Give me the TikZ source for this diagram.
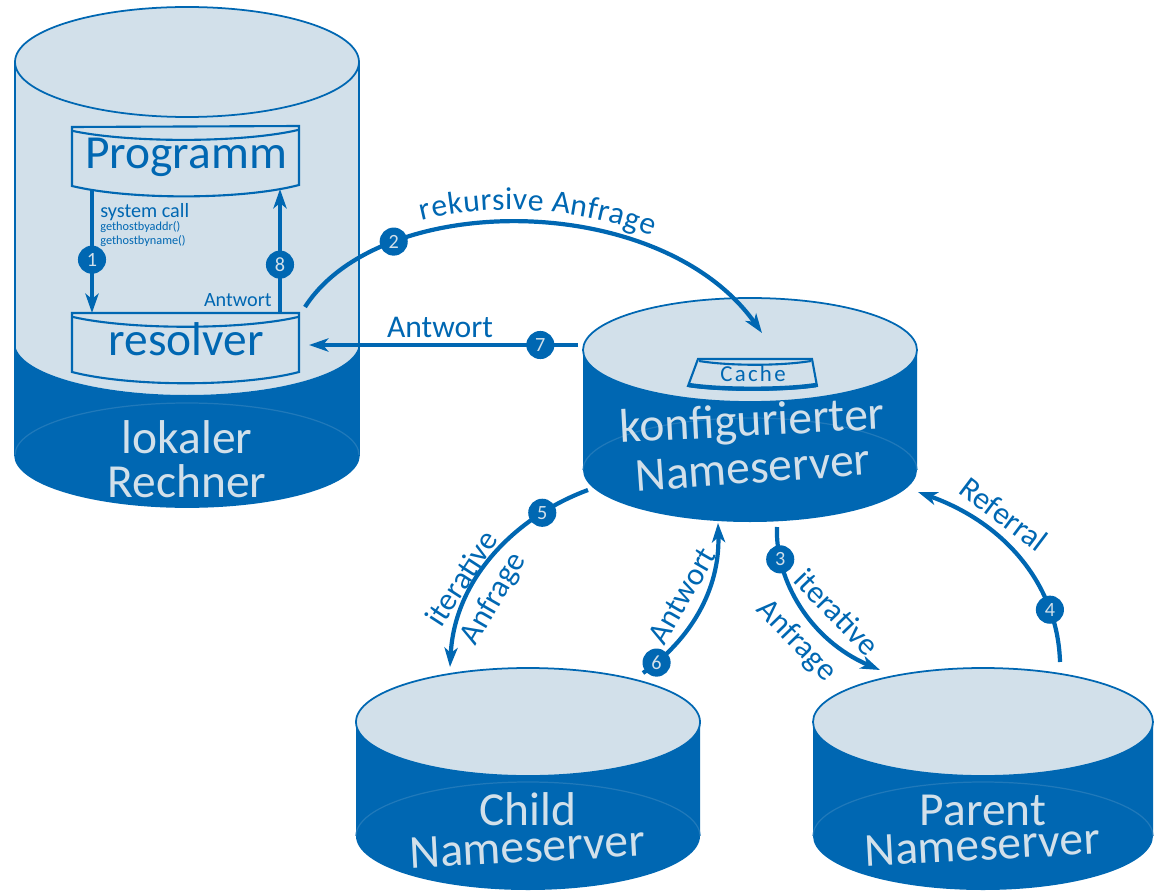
\documentclass[tikz,border=0pt]{standalone}
\usepackage{fontspec}
\setmainfont{Carlito}
\usepackage{tikz}
\usetikzlibrary{arrows.meta,decorations.text}
\pgfdeclarelayer{background}
\pgfdeclarelayer{foreground}
\pgfsetlayers{background,main,foreground}
\definecolor{dnsblue}{RGB}{0,103,178}
\definecolor{dnslight}{RGB}{210,224,234}
\tikzstyle{dnsedge} = [dnsblue, line width = 2.4pt, -{Stealth[length = 11pt, width = 7.5pt, inset = 3pt]}]
\tikzstyle{dnsstep} = [circle, fill = dnsblue, text = dnslight, inner sep = 0pt, minimum size = 16pt, font = \fontsize{11.5}{11.5}\selectfont]
\tikzstyle{cyltext} = [text = dnslight, inner sep = 0pt, anchor = base, font = \fontsize{27}{27}\selectfont]
\tikzstyle{boxtext} = [text = dnsblue, inner sep = 0pt, anchor = base, font = \fontsize{27}{27}\selectfont]
\tikzstyle{arclabel} = [text = dnsblue, inner sep = 0pt, font = \fontsize{18}{18}\selectfont]
\tikzstyle{smalllabel} = [text = dnsblue, inner sep = 0pt, font = \fontsize{11.5}{11.5}\selectfont]
\tikzstyle{tinylabel} = [text = dnsblue, inner sep = 0pt, anchor = base west, font = \fontsize{7}{7}\selectfont]
\tikzstyle{boxline} = [draw = dnsblue, line width = 1.2pt]
\tikzstyle{cylline} = [draw = dnsblue, line width = 1pt]
\tikzstyle{cylrim} = [dnsblue!85!dnslight, line width = 0.7pt]
% cylinder: centre x, top y, bottom y, x radius, y radius
\newcommand{\dnscylinder}[5]{%
  \fill[dnsblue] (#1-#4,#2) -- (#1-#4,#3) arc[start angle = 180, end angle = 0, x radius = #4, y radius = #5] -- (#1+#4,#2) -- cycle;
  \draw[cylrim] (#1-#4,#3) arc[start angle = 180, end angle = 360, x radius = #4, y radius = #5];
  \filldraw[fill = dnslight, cylline] (#1,#2) ellipse[x radius = #4, y radius = #5];
}

\begin{document}
\begin{tikzpicture}[x = 0.02cm, y = -0.02cm]
\useasboundingbox (0,0) rectangle (1159,895);
\begin{pgfonlayer}{background}
% lokaler Rechner
\fill[dnslight] (15,62) -- (15,343) arc[start angle = 180, end angle = 0, x radius = 172, y radius = 52] -- (359,62) -- cycle;
\fill[dnsblue] (15,343) arc[start angle = 180, end angle = 0, x radius = 172, y radius = 52] -- (359,455) arc[start angle = 0, end angle = 180, x radius = 172, y radius = 52] -- cycle;
\draw[cylline] (15,62) -- (15,455) arc[start angle = 180, end angle = 0, x radius = 172, y radius = 52] -- (359,62);
\draw[cylrim] (15,455) arc[start angle = 180, end angle = 360, x radius = 172, y radius = 52];
\filldraw[fill = dnslight, cylline] (187,62) ellipse[x radius = 172, y radius = 55];
% nameserver
\dnscylinder{750}{350}{470}{167}{52}
\dnscylinder{528}{722}{836}{172}{54}
\dnscylinder{983}{722}{836}{170}{54}
% boxes
\filldraw[fill = dnslight, boxline] (72,127) -- (72,186) .. controls (130,200) and (242,200) .. (299,185) -- (299,126) -- cycle;
\draw[boxline] (73,131) .. controls (130,143) and (242,143) .. (298,130);
\filldraw[fill = dnslight, boxline] (72,313) -- (72,372) .. controls (130,387) and (242,387) .. (299,372) -- (299,313) -- cycle;
\draw[boxline] (73,317) .. controls (130,330) and (242,330) .. (298,317);
\filldraw[fill = dnslight, boxline] (698,359) -- (688,386) .. controls (720,391) and (785,391) .. (817,386) -- (812,359) -- cycle;
\draw[boxline] (699,361) .. controls (730,366) and (780,366) .. (811,361);
\draw[dnsblue, line width = 2.5pt] (689,385) .. controls (720,390) and (785,390) .. (816,385);
\end{pgfonlayer}

\node[boxtext] (prog) at (186,169) {Programm};
\node[boxtext] (res) at (186,355) {resolver};
\node[text = dnsblue, inner sep = 0pt, anchor = base, font = \fontsize{13}{13}\selectfont\addfontfeature{LetterSpace = 10}] (cache) at (753,381) {Cache};
\node[cyltext] (loc1) at (187,453) {lokaler};
\node[cyltext] (loc2) at (187,497) {Rechner};
\node[cyltext, rotate = 3] (conf1) at (753,436) {konfigurierter};
\node[cyltext, rotate = 4] (conf2) at (754,483) {Nameserver};
\node[cyltext] (child1) at (528,825) {Child};
\node[cyltext, rotate = 3] (child2) at (528,862) {Nameserver};
\node[cyltext] (par1) at (983,825) {Parent};
\node[cyltext, rotate = 3] (par2) at (983,860) {Nameserver};

\node[smalllabel, anchor = base west] (sys) at (100,217) {system call};
\node[tinylabel] (gaddr) at (100,231) {gethostbyaddr()};
\node[tinylabel] (gname) at (100,244) {gethostbyname()};
\node[smalllabel, anchor = base east] (ant8) at (272,306) {Antwort};
\node[arclabel, anchor = base] (ant7) at (440,337) {Antwort};
\node[arclabel, rotate = 57] (it5) at (461,578) {iterative};
\node[arclabel, rotate = 60] (an5) at (494,599) {Anfrage};
\node[arclabel, rotate = 60] (ant6) at (682,596) {Antwort};
\node[arclabel, rotate = -46] (it3) at (837,612) {iterative};
\node[arclabel, rotate = -46] (an3) at (796,641) {Anfrage};
\node[arclabel, rotate = -37] (ref4) at (1004,514) {Referral};

\coordinate (c1a) at (92,189);
\coordinate (c1b) at (92,313);
\coordinate (c8a) at (280,313);
\coordinate (c8b) at (280,189);
\coordinate (c2a) at (305,307);
\coordinate (c2b) at (762,333);
\coordinate (c7a) at (578,345);
\coordinate (c7b) at (309,345);
\coordinate (c5a) at (588,490);
\coordinate (c5b) at (450,667);
\coordinate (c6a) at (643,673);
\coordinate (c6b) at (718,523);
\coordinate (c3a) at (777,527);
\coordinate (c3b) at (880,670);
\coordinate (c4a) at (1060,662);
\coordinate (c4b) at (918,492);

\draw[dnsedge] (c1a) -- (c1b) node[dnsstep, pos = 0.57] (s1) {1};
\draw[dnsedge] (c8a) -- (c8b) node[dnsstep, pos = 0.39] (s8) {8};
\draw[dnsedge] (c2a) .. controls (380,190) and (660,190) .. (c2b) node[dnsstep, pos = 0.25] (s2) {2};
\path[decorate, decoration = {text along path, text = {|\fontsize{18}{18}\selectfont|rekursive Anfrage}, text align = center, raise = 7pt, text color = dnsblue}] (c2a) .. controls (380,190) and (660,190) .. (c2b);
\draw[dnsedge] (c7a) -- (c7b) node[dnsstep, pos = 0.14] (s7) {7};
\draw[dnsedge] (c5a) .. controls (520,515) and (455,575) .. (c5b) node[dnsstep, pos = 0.23] (s5) {5};
\draw[dnsedge] (c6a) .. controls (690,640) and (720,590) .. (c6b) node[dnsstep, pos = 0.1] (s6) {6};
\draw[dnsedge] (c3a) .. controls (775,580) and (810,640) .. (c3b) node[dnsstep, pos = 0.2] (s3) {3};
\draw[dnsedge] (c4a) .. controls (1058,590) and (1010,525) .. (c4b) node[dnsstep, pos = 0.25] (s4) {4};

\end{tikzpicture}
\end{document}
